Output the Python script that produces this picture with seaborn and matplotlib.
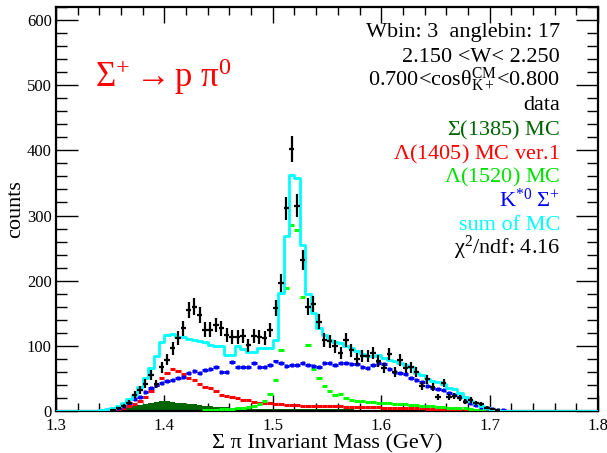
import numpy as np
import pandas as pd
import matplotlib
matplotlib.use("Agg")
import matplotlib.pyplot as plt
from matplotlib.ticker import MultipleLocator
import seaborn as sns

# ---------------- data (100 bins, 1.300 - 1.800 GeV, width 0.005) ----------------
mass_min = 1.3
mass_max = 1.8
n_bins = 100

data_counts = [0, 0, 0, 0, 0, 0, 0, 0, 0, 0,
               2, 4, 8, 13, 25, 32, 42, 55, 41, 67,
               79, 96, 112, 127, 155, 160, 147, 125, 125, 132,
               127, 117, 113, 113, 115, 101, 115, 113, 112, 124,
               158, 196, 311, 402, 315, 232, 160, 164, 137, 109,
               107, 99, 89, 109, 93, 80, 84, 84, 89, 77,
               66, 87, 60, 78, 66, 67, 60, 38, 49, 37,
               21, 43, 21, 23, 20, 14, 17, 12, 11, 5,
               3, 1, 0, 0, 0, 0, 0, 0, 0, 0,
               0, 0, 0, 0, 0, 0, 0, 0, 0, 0]

sum_mc = [0, 0, 0, 0, 0, 0, 0, 0, 1, 3,
          5, 8, 12, 18, 25, 37, 50, 66, 85, 106,
          117, 118, 114, 113, 110, 109, 107, 106, 101, 100,
          99, 86, 86, 99, 95, 90, 90, 96, 96, 96,
          109, 181, 268, 362, 358, 255, 180, 150, 127, 117,
          109, 106, 105, 99, 97, 92, 88, 84, 84, 86,
          82, 78, 76, 73, 70, 68, 58, 56, 49, 46,
          44, 42, 36, 33, 27, 21, 16, 12, 8, 5,
          2, 1, 0, 0, 0, 0, 0, 0, 0, 0,
          0, 0, 0, 0, 0, 0, 0, 0, 0, 0]

kstar_sigma = [0, 0, 0, 0, 0, 0, 0, 0, 0, 1,
               3, 5, 8, 13, 18, 22, 29, 36, 40, 43,
               46, 48, 51, 52, 58, 61, 59, 63, 65, 68,
               60, 60, 75, 67, 68, 68, 73, 67, 67, 71,
               76, 73, 69, 71, 70, 74, 70, 69, 68, 74,
               74, 71, 73, 73, 72, 72, 68, 66, 70, 74,
               72, 64, 60, 58, 57, 50, 48, 44, 39, 36,
               34, 32, 27, 25, 21, 15, 12, 9, 6, 4,
               3, 2, 1, 0, 0, 0, 0, 0, 0, 0,
               0, 0, 0, 0, 0, 0, 0, 0, 0, 0]

lambda1405 = [0, 0, 0, 0, 0, 0, 0, 0, 0, 0,
              1, 2, 4, 7, 11, 15, 21, 30, 40, 51,
              58, 65, 62, 57, 50, 47, 42, 37, 35, 30,
              25, 23, 21, 19.5, 17, 17, 14, 13, 12, 12,
              11, 11, 9, 9, 8.5, 8, 8, 8, 7.5, 7.5,
              7, 7, 7, 6.5, 6.5, 6, 6, 6, 5.5, 5.5,
              5, 5, 5, 4.5, 4.5, 4, 4, 4, 3.5, 3.5,
              3, 3, 2.5, 2.5, 2, 2, 1.5, 1, 1, 0.5,
              0, 0, 0, 0, 0, 0, 0, 0, 0, 0,
              0, 0, 0, 0, 0, 0, 0, 0, 0, 0]

lambda1520 = [0, 0, 0, 0, 0, 0, 0, 0, 0, 0,
              0, 0, 0, 0, 0, 0, 0, 0, 0, 0,
              0, 0, 0, 0, 0, 0, 0, 1, 2, 2,
              2.5, 3, 3.5, 4, 5, 6, 8, 11, 16, 26,
              48, 94, 188, 285, 278, 175, 101, 65, 51, 38,
              31, 25, 26, 20, 17, 16, 15, 14, 14, 13,
              12, 12, 11, 10, 10, 9, 9, 8, 7, 7,
              6, 6, 5, 5, 4, 4, 3, 2, 2, 1,
              0, 0, 0, 0, 0, 0, 0, 0, 0, 0,
              0, 0, 0, 0, 0, 0, 0, 0, 0, 0]

sigma1385 = [0, 0, 0, 0, 0, 0, 0, 0, 0, 0,
             1, 2, 3, 5, 7, 9, 11, 13, 14, 15,
             15, 14, 13, 12, 11, 10, 9, 8, 7, 6.5,
             6, 5.5, 5, 4.5, 4, 4, 3.5, 3.5, 3, 3,
             3, 3, 2.5, 2.5, 2.5, 2.5, 2.5, 2.5, 2.5, 2.5,
             2.5, 2.5, 2.5, 2.5, 2.5, 2, 2, 2, 2, 2,
             2, 2, 2, 2, 2, 2, 2, 2, 1.5, 1.5,
             1.5, 1.5, 1.5, 1.5, 1.5, 1, 1, 1, 1, 0.5,
             0.5, 0, 0, 0, 0, 0, 0, 0, 0, 0,
             0, 0, 0, 0, 0, 0, 0, 0, 0, 0]

legend_lines = ["Wbin: 3  anglebin: 17",
                "2.150 <W< 2.250",
                r"0.700<cos$\theta^{CM}_{K+}$<0.800",
                "data",
                r"$\Sigma$(1385) MC",
                r"$\Lambda$(1405) MC ver.1",
                r"$\Lambda$(1520) MC",
                r"$K^{*0}\ \Sigma^{+}$",
                "sum of MC",
                r"$\chi^{2}$/ndf: 4.16"]
legend_colors = ["black", "black", "black", "black", "#006400", "red",
                 "#00e000", "blue", "cyan", "black"]
decay_text = r"$\Sigma^{+} \rightarrow p\ \pi^{0}$"

# ---------------- style ----------------
sns.set_theme(style="ticks")
plt.rcParams["font.family"] = ["Liberation Serif", "DejaVu Serif"]
plt.rcParams["mathtext.fontset"] = "custom"
plt.rcParams["mathtext.rm"] = "Liberation Serif"
plt.rcParams["mathtext.it"] = "Liberation Serif:italic"
plt.rcParams["mathtext.default"] = "regular"

edges = np.linspace(mass_min, mass_max, n_bins + 1)
centers = 0.5 * (edges[:-1] + edges[1:])
half_w = 0.5 * (edges[1] - edges[0])
bin_list = edges.tolist()

df = pd.DataFrame({"mass": centers, "s1385": sigma1385, "summc": sum_mc})

W, H = 607, 453
fig = plt.figure(figsize=(W / 100, H / 100), dpi=100)
ax = fig.add_axes([56 / W, 1 - 411 / H, 542 / W, 404 / H])

# Sigma(1385): filled dark green histogram
sns.histplot(data=df, x="mass", weights="s1385", bins=bin_list, element="step",
             fill=True, color="#006400", alpha=1.0, linewidth=0, ax=ax)

# MC components as small crosses
d_l1405 = np.array(lambda1405, dtype=float)
m = d_l1405 > 0
ax.errorbar(centers[m], d_l1405[m], xerr=half_w, yerr=0.8, fmt="none",
            ecolor="red", elinewidth=2.2, capsize=0, zorder=3)
d_l1520 = np.array(lambda1520, dtype=float)
m = d_l1520 > 0
ax.errorbar(centers[m], d_l1520[m], xerr=half_w, yerr=1.0, fmt="none",
            ecolor="#00ff00", elinewidth=2.2, capsize=0, zorder=3)
d_ks = np.array(kstar_sigma, dtype=float)
m = d_ks > 0
ax.errorbar(centers[m], d_ks[m], xerr=half_w, yerr=3.0, fmt="none",
            ecolor="blue", elinewidth=2.2, capsize=0, zorder=3)

# Sum of MC: cyan step line
sns.histplot(data=df, x="mass", weights="summc", bins=bin_list, element="step",
             fill=False, color="cyan", linewidth=2.0, ax=ax, zorder=4)

# Data points with sqrt(N) errors
d = np.array(data_counts, dtype=float)
m = d > 0
ax.errorbar(centers[m], d[m], xerr=half_w, yerr=np.sqrt(d[m]), fmt="none",
            ecolor="black", elinewidth=1.6, capsize=0, zorder=5)

ax.set_xlim(mass_min, mass_max)
ax.set_ylim(0, 620)
ax.xaxis.set_major_locator(MultipleLocator(0.1))
ax.xaxis.set_minor_locator(MultipleLocator(0.02))
ax.yaxis.set_major_locator(MultipleLocator(100))
ax.yaxis.set_minor_locator(MultipleLocator(20))
ax.tick_params(which="both", direction="in", top=True, right=True,
               color="black", labelsize=12, labelcolor="black")
ax.tick_params(axis="y", which="major", length=16, width=1.0, pad=3)
ax.tick_params(axis="y", which="minor", length=8, width=1.0)
ax.tick_params(axis="x", which="major", length=11.5, width=1.0, pad=5)
ax.tick_params(axis="x", which="minor", length=6, width=1.0)
for s in ax.spines.values():
    s.set_linewidth(1.6)
    s.set_color("black")
    s.set_visible(True)

ax.set_xlabel("Σ π Invariant Mass (GeV)", fontsize=16, labelpad=0, color="black")
ax.set_ylabel("counts", fontsize=16, labelpad=1, color="black")

# text block
y_pos = [33, 57, 80, 106, 130, 154, 177, 200, 226, 248]
for txt, col, yp in zip(legend_lines, legend_colors, y_pos):
    fig.text(560 / W, 1 - yp / H, txt, color=col, fontsize=16,
             ha="right", va="center")

fig.text(95 / W, 1 - 77 / H, decay_text, color="red", fontsize=25,
         ha="left", va="center")

fig.savefig("out.png", dpi=100)
